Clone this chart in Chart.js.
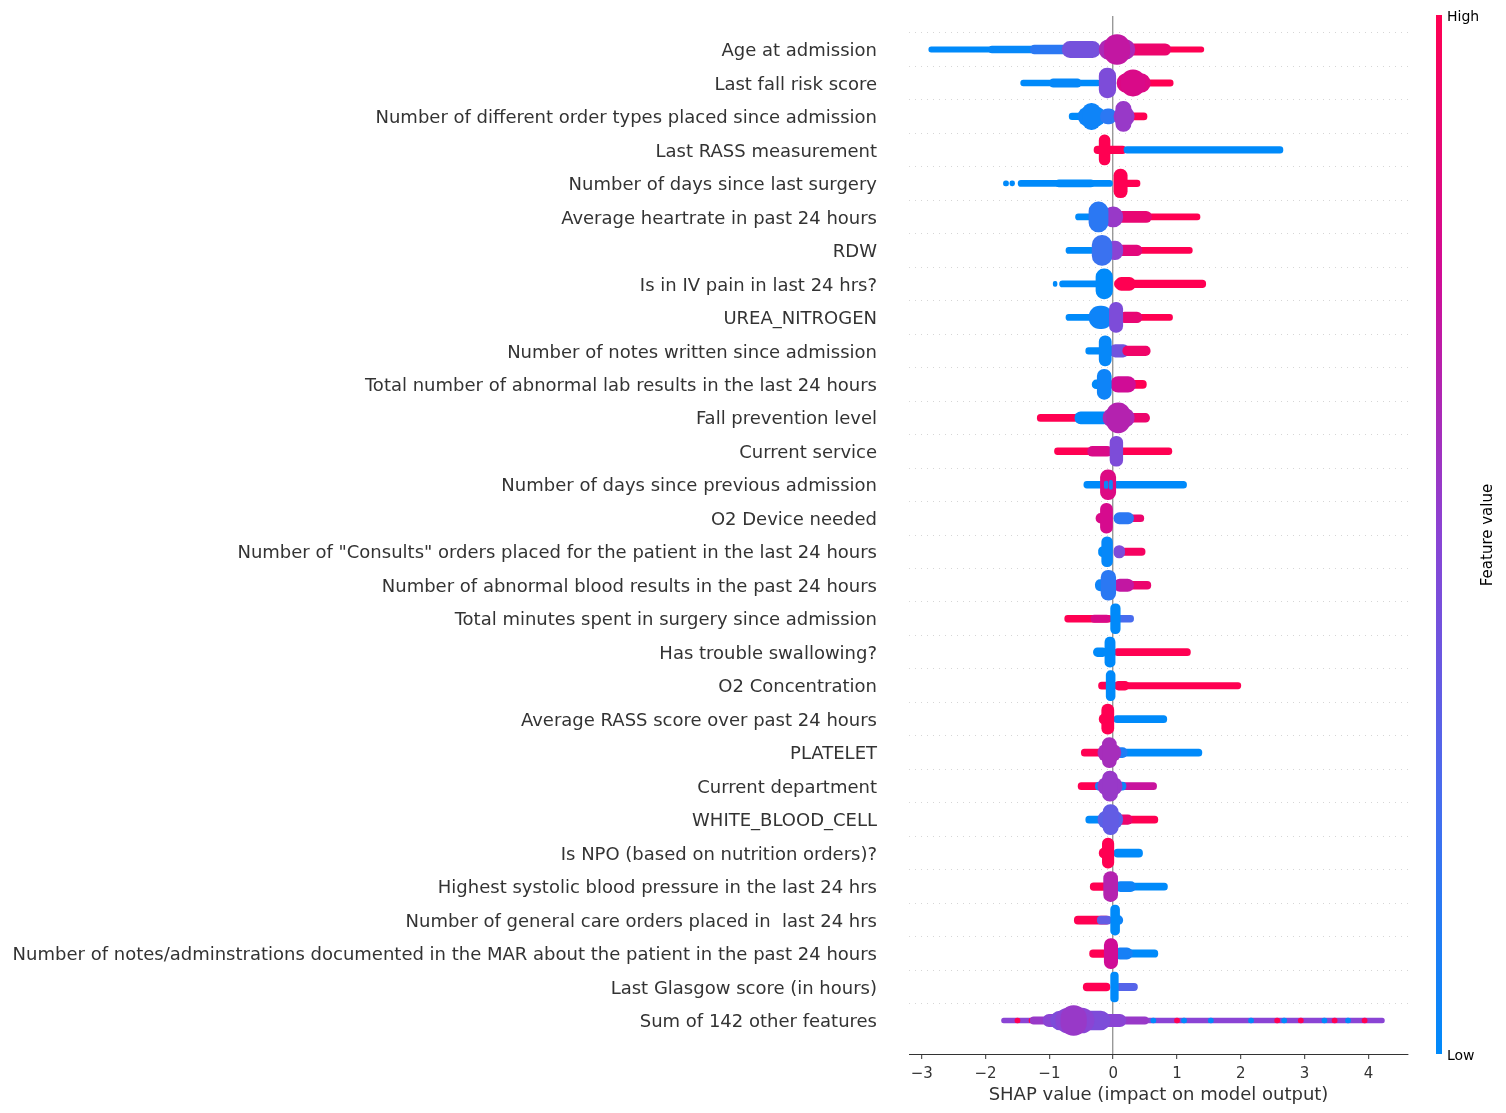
<!DOCTYPE html>
<html>
<head>
<meta charset="utf-8">
<script src="https://cdn.jsdelivr.net/npm/chart.js@4.4.1/dist/chart.umd.min.js"></script>
<style>
  html, body { margin: 0; padding: 0; background: #fff; overflow: hidden; }
  #wrap { width: 1506px; height: 1113px; position: relative; }
</style>
</head>
<body>
<div id="wrap"><canvas id="shap"></canvas></div>
<script>
// feature names, top to bottom
const features = [
    'Age at admission',
    'Last fall risk score',
    'Number of different order types placed since admission',
    'Last RASS measurement',
    'Number of days since last surgery',
    'Average heartrate in past 24 hours',
    'RDW',
    'Is in IV pain in last 24 hrs?',
    'UREA_NITROGEN',
    'Number of notes written since admission',
    'Total number of abnormal lab results in the last 24 hours',
    'Fall prevention level',
    'Current service',
    'Number of days since previous admission',
    'O2 Device needed',
    'Number of "Consults" orders placed for the patient in the last 24 hours',
    'Number of abnormal blood results in the past 24 hours',
    'Total minutes spent in surgery since admission',
    'Has trouble swallowing?',
    'O2 Concentration',
    'Average RASS score over past 24 hours',
    'PLATELET',
    'Current department',
    'WHITE_BLOOD_CELL',
    'Is NPO (based on nutrition orders)?',
    'Highest systolic blood pressure in the last 24 hrs',
    'Number of general care orders placed in  last 24 hrs',
    'Number of notes/adminstrations documented in the MAR about the patient in the past 24 hours',
    'Last Glasgow score (in hours)',
    'Sum of 142 other features'
];

const xTicks = [-3, -2, -1, 0, 1, 2, 3, 4];

// swarm pieces for each feature (same order as above):
// [shap from, shap to, point density 0-1, feature value 0 (low) - 1 (high)]
// later pieces of a row lie on top of earlier ones
const swarm = [
    [[-2.89, -1.0, 0.02, 0], [-1.95, -1.0, 0.08, 0.02], [-1.3, -0.55, 0.16, 0.15], [-0.8, -0.2, 0.45, 0.42],
     [0.5, 1.42, 0.02, 1], [0.2, 0.9, 0.26, 0.9], [-0.22, 0.34, 0.6, 0.62], [-0.14, 0.26, 1.0, 0.7]],
    [[-1.45, -0.2, 0.04, 0], [-1.0, -0.5, 0.14, 0.02], [0.4, 0.94, 0.06, 1],
     [-0.22, 0.04, 1.0, 0.45], [0.06, 0.58, 0.55, 0.82], [0.12, 0.5, 0.85, 0.8]],
    [[-0.69, -0.3, 0.06, 0], [0.2, 0.53, 0.08, 1], [-0.55, -0.12, 0.55, 0.05], [-0.48, -0.2, 0.85, 0.05],
     [-0.2, 0.05, 0.4, 0.15], [0.0, 0.33, 0.6, 0.55], [0.04, 0.28, 1.0, 0.55]],
    [[-0.3, 0.2, 0.1, 1], [0.17, 2.66, 0.06, 0], [-0.22, -0.05, 1.0, 1]],
    [[-1.72, -1.64, 0, 0], [-1.62, -1.545, 0, 0], [-1.49, 0.0, 0.05, 0], [-0.9, -0.3, 0.08, 0],
     [0.1, 0.42, 0.06, 1], [0.0, 0.22, 0.95, 1]],
    [[-0.59, -0.3, 0.05, 0], [0.4, 1.36, 0.04, 1], [0.05, 0.6, 0.25, 0.88],
     [-0.15, 0.15, 0.6, 0.55], [-0.38, -0.08, 1.0, 0.15]],
    [[-0.74, -0.3, 0.05, 0], [0.35, 1.24, 0.04, 1], [0.05, 0.45, 0.22, 0.85],
     [-0.1, 0.15, 0.55, 0.5], [-0.33, -0.02, 1.0, 0.2]],
    [[-0.94, -0.88, 0, 0], [-0.84, -0.1, 0.05, 0], [-0.27, 0.0, 1.0, 0],
     [0.02, 1.45, 0.1, 1], [0.03, 0.35, 0.32, 1]],
    [[-0.74, -0.3, 0.05, 0], [0.35, 0.93, 0.04, 1], [-0.38, 0.0, 0.7, 0.05],
     [0.1, 0.45, 0.22, 0.88], [-0.06, 0.15, 1.0, 0.45]],
    [[-0.43, -0.15, 0.06, 0], [-0.06, 0.25, 0.3, 0.4], [0.15, 0.58, 0.18, 0.92],
     [-0.22, -0.03, 1.0, 0.02]],
    [[-0.33, -0.15, 0.15, 0], [0.2, 0.52, 0.12, 1], [-0.04, 0.35, 0.42, 0.75],
     [-0.25, -0.03, 1.0, 0.05]],
    [[-1.19, -0.55, 0.08, 1], [0.2, 0.57, 0.15, 0.9], [-0.6, -0.05, 0.28, 0],
     [-0.16, 0.33, 0.55, 0.62], [-0.1, 0.26, 1.0, 0.65]],
    [[-0.92, -0.3, 0.07, 1], [0.1, 0.92, 0.07, 1], [-0.4, -0.02, 0.2, 0.8],
     [-0.05, 0.15, 1.0, 0.45]],
    [[-0.46, -0.15, 0.07, 0], [0.0, 1.15, 0.08, 0], [-0.2, 0.04, 1.0, 0.82],
     [-0.14, -0.08, 0.1, 0.05], [-0.06, 0.0, 0.15, 0.05]],
    [[-0.27, -0.1, 0.2, 0.8], [0.25, 0.48, 0.08, 0.9], [0.0, 0.32, 0.25, 0.15],
     [-0.2, 0.0, 1.0, 0.78]],
    [[-0.23, -0.1, 0.2, 0], [0.1, 0.5, 0.1, 0.95], [0.0, 0.18, 0.3, 0.45],
     [-0.18, 0.0, 1.0, 0.02]],
    [[-0.28, -0.12, 0.25, 0.05], [0.2, 0.59, 0.12, 0.9], [0.0, 0.32, 0.3, 0.7],
     [-0.19, 0.04, 1.0, 0.15]],
    [[-0.76, -0.02, 0.07, 1], [-0.35, -0.05, 0.1, 0.8], [0.05, 0.32, 0.07, 0.25],
     [-0.04, 0.11, 1.0, 0]],
    [[-0.31, -0.1, 0.15, 0], [0.02, 1.21, 0.08, 1], [-0.13, 0.03, 1.0, 0]],
    [[-0.23, -0.05, 0.08, 1], [0.0, 2.0, 0.05, 1], [0.02, 0.25, 0.15, 1], [-0.11, 0.03, 1.0, 0]],
    [[-0.22, -0.05, 0.2, 1], [0.0, 0.84, 0.08, 0], [-0.18, 0.01, 1.0, 1]],
    [[-0.5, -0.1, 0.08, 1], [0.02, 1.39, 0.08, 0], [0.02, 0.22, 0.2, 0.1],
     [-0.24, 0.12, 0.5, 0.6], [-0.17, 0.05, 1.0, 0.6]],
    [[-0.55, -0.15, 0.08, 1], [0.0, 0.68, 0.08, 0.72], [-0.28, -0.1, 0.12, 0.1],
     [0.05, 0.2, 0.12, 0.05], [-0.24, 0.14, 0.5, 0.55], [-0.17, 0.07, 1.0, 0.55]],
    [[-0.43, -0.1, 0.08, 0], [0.05, 0.7, 0.08, 1], [0.05, 0.3, 0.18, 0.9],
     [-0.24, 0.15, 0.5, 0.32], [-0.16, 0.08, 1.0, 0.35]],
    [[-0.22, -0.05, 0.2, 1], [0.0, 0.46, 0.12, 0], [-0.17, 0.01, 1.0, 1]],
    [[-0.36, -0.1, 0.1, 1], [0.04, 0.85, 0.08, 0], [0.04, 0.35, 0.2, 0.05],
     [-0.15, 0.07, 1.0, 0.65]],
    [[-0.61, -0.05, 0.12, 1], [-0.25, -0.03, 0.12, 0.35], [0.0, 0.15, 0.15, 0.05],
     [-0.04, 0.1, 1.0, 0]],
    [[-0.37, -0.1, 0.1, 1], [0.03, 0.7, 0.09, 0], [0.02, 0.3, 0.25, 0.08],
     [-0.14, 0.07, 1.0, 0.75]],
    [[-0.47, -0.05, 0.12, 1], [0.04, 0.38, 0.09, 0.3], [-0.04, 0.08, 1.0, 0]],
    [[-1.75, 4.25, 0.0, 0.5], [-1.54, -1.46, 0, 1], [-1.32, -1.24, 0, 1],
     [0.59, 0.67, 0, 0], [0.96, 1.04, 0, 1], [1.07, 1.15, 0, 0], [1.49, 1.57, 0, 0],
     [2.12, 2.2, 0, 0], [2.53, 2.61, 0, 1], [2.64, 2.72, 0, 0], [2.9, 2.98, 0, 1],
     [3.27, 3.35, 0, 0], [3.43, 3.51, 0, 1], [3.64, 3.72, 0, 0], [3.9, 3.98, 0, 1],
     [-1.3, 0.55, 0.1, 0.55], [-1.1, 0.2, 0.3, 0.5], [-0.98, -0.05, 0.55, 0.45],
     [-0.9, -0.3, 0.8, 0.5], [-0.82, -0.42, 1.0, 0.55]]
];

// red_blue colour scale (low -> high)
const stops = [
    [0, [0, 138, 250]],
    [0.25, [72, 108, 238]],
    [0.5, [138, 68, 212]],
    [0.75, [208, 12, 150]],
    [1, [255, 0, 82]]
];

function valueColor(v) {
    for (let i = 1; i < stops.length; i++) {
        if (v <= stops[i][0]) {
            const [p0, c0] = stops[i - 1];
            const [p1, c1] = stops[i];
            const t = (v - p0) / (p1 - p0);
            const c = c0.map((a, k) => Math.round(a + (c1[k] - a) * t));
            return 'rgb(' + c.join(',') + ')';
        }
    }
    return 'rgb(' + stops[stops.length - 1][1].join(',') + ')';
}

const datasets = [];
let n = 0;
swarm.forEach((row, i) => {
    row.forEach(([lo, hi, dens, fv]) => {
        datasets.push({
            data: [{ x: [lo, hi], y: features[i] }],
            backgroundColor: valueColor(fv),
            barThickness: 5 + 25 * dens,
            borderRadius: 100,
            borderSkipped: false,
            grouped: false,
            order: -n
        });
        n++;
    });
});

const colorBar = {
    id: 'colorBar',
    afterDraw(chart) {
        const { ctx, chartArea: a } = chart;
        const x = a.right + 28, w = 6;
        const g = ctx.createLinearGradient(0, a.bottom, 0, a.top);
        stops.forEach(([p, c]) => g.addColorStop(p, 'rgb(' + c.join(',') + ')'));
        ctx.save();
        ctx.fillStyle = g;
        ctx.fillRect(x, a.top - 1, w, a.bottom - a.top + 1);
        ctx.fillStyle = '#000';
        ctx.font = '14px "DejaVu Sans"';
        ctx.textBaseline = 'middle';
        ctx.fillText('High', x + w + 5, a.top + 1);
        ctx.fillText('Low', x + w + 5, a.bottom + 2);
        ctx.translate(1488, (a.top + a.bottom) / 2);
        ctx.rotate(-Math.PI / 2);
        ctx.textAlign = 'center';
        ctx.font = '15px "DejaVu Sans"';
        ctx.fillText('Feature value', 0, 0);
        ctx.restore();
    }
};

Chart.defaults.font.family = '"DejaVu Sans", sans-serif';

new Chart(document.getElementById('shap'), {
    type: 'bar',
    data: { labels: [''].concat(features, ['']), datasets: datasets },
    options: {
        indexAxis: 'y',
        responsive: true,
        maintainAspectRatio: false,
        animation: false,
        layout: { padding: { top: 16, right: 98, left: 0, bottom: 0 } },
        plugins: { legend: { display: false }, tooltip: { enabled: false } },
        scales: {
            x: {
                type: 'linear',
                min: -3.2,
                max: 4.62,
                afterBuildTicks: s => { s.ticks = xTicks.map(v => ({ value: v })); },
                ticks: {
                    callback: v => String(v).replace('-', '\u2212'),
                    color: '#333333',
                    font: { size: 15 },
                    padding: 6
                },
                grid: {
                    color: c => (c.tick && c.tick.value === 0 ? '#999999' : 'rgba(0,0,0,0)'),
                    lineWidth: 1.4,
                    tickColor: '#333333',
                    tickLength: 5,
                    tickWidth: 1
                },
                border: { display: true, color: '#333333', width: 1 },
                title: {
                    display: true,
                    text: 'SHAP value (impact on model output)',
                    color: '#333333',
                    font: { size: 18 },
                    padding: { top: 0, bottom: 7 }
                },
                afterFit: s => { s.height = 59; s.paddingLeft = 0; s.paddingRight = 0; },
                z: 1
            },
            y: {
                type: 'category',
                offset: false,
                ticks: { autoSkip: false, color: '#333333', font: { size: 18 }, padding: 32, labelOffset: 2 },
                grid: {
                    drawTicks: false,
                    color: c => (c.tick && c.tick.label ? '#cccccc' : 'rgba(0,0,0,0)'),
                    lineWidth: 0.8
                },
                border: { display: false, dash: [1, 5] },
                afterFit: s => { s.width = 909; s.paddingTop = 0; s.paddingBottom = 0; }
            }
        }
    },
    plugins: [colorBar]
});
</script>
</body>
</html>
